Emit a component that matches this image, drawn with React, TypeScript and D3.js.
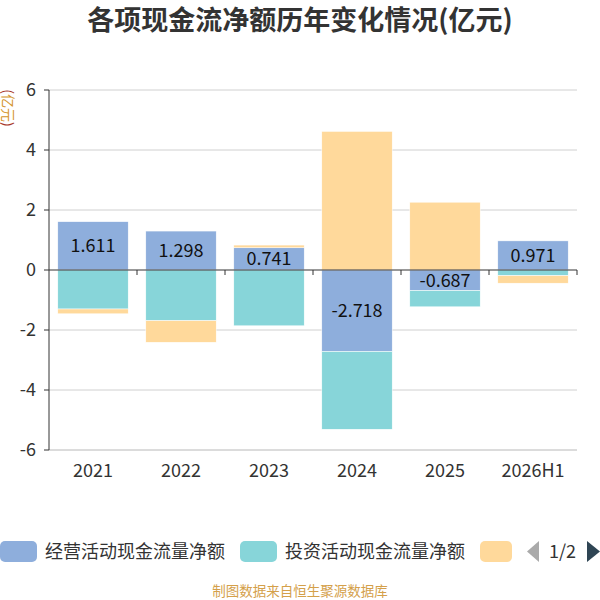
import React from "react";
import * as d3 from "d3";

const years = ["2021", "2022", "2023", "2024", "2025", "2026H1"];
const operating = [1.611, 1.298, 0.741, -2.718, -0.687, 0.971];
const investing = [-1.3, -1.69, -1.86, -2.59, -0.54, -0.19];
const financing = [-0.16, -0.72, 0.09, 4.62, 2.26, -0.25];
const seriesNames = ["经营活动现金流量净额", "投资活动现金流量净额", "筹资活动现金流量净额"];
const colors = ["#8eaedc", "#87d5d9", "#ffd99b"];
const yTicks = [-6, -4, -2, 0, 2, 4, 6];

const width = 600;
const height = 600;
const left = 49;
const right = 577;
const top = 90;
const bottom = 450;

const font = "'Noto Sans CJK SC', 'Noto Sans', sans-serif";

const x = d3.scaleBand<string>().domain(years).range([left, right]).paddingInner(0.2).paddingOuter(0.1);
const band = d3.scaleBand<string>().domain(years).range([left, right]);
const y = d3.scaleLinear().domain([-6, 6]).range([bottom, top]);

type Seg = { key: string; s: number; y0: number; y1: number; v: number };

// stack positives and negatives separately, like echarts does
const segments: Seg[] = [];
years.forEach((yr, i) => {
  let pos = 0;
  let neg = 0;
  [operating[i], investing[i], financing[i]].forEach((v, s) => {
    if (v >= 0) {
      segments.push({ key: yr, s, y0: pos, y1: pos + v, v });
      pos += v;
    } else {
      segments.push({ key: yr, s, y0: neg, y1: neg + v, v });
      neg += v;
    }
  });
});

const App = () => {
  return (
    <svg width={width} height={height} style={{ position: "absolute", left: 0, top: 0, fontFamily: font }}>
      <text x={300} y={30} textAnchor="middle" fontSize={27} fontWeight="bold" fill="#333">
        各项现金流净额历年变化情况(亿元)
      </text>
      <text transform={`translate(3, 108) rotate(90)`} textAnchor="middle" fontSize={14}>
        <tspan fill="#a8392b">(</tspan>
        <tspan fill="#d4952c">亿元</tspan>
        <tspan fill="#a8392b">)</tspan>
      </text>

      {yTicks.map((t) => (
        <g key={t}>
          {t !== 0 && <line x1={left} x2={right} y1={y(t)} y2={y(t)} stroke="#d0d0d0" />}
          <line x1={left - 5} x2={left} y1={y(t)} y2={y(t)} stroke="#333" />
          <text x={left - 13} y={y(t)} dy="0.35em" textAnchor="end" fontSize={18} fill="#333">
            {t}
          </text>
        </g>
      ))}
      <line x1={left} x2={right} y1={bottom} y2={bottom} stroke="#d0d0d0" />

      {segments.map((d, i) => (
        <rect
          key={i}
          x={x(d.key)}
          width={x.bandwidth()}
          y={y(Math.max(d.y0, d.y1))}
          height={Math.abs(y(d.y0) - y(d.y1))}
          fill={colors[d.s]}
          stroke="#fff"
          strokeWidth={0.5}
        />
      ))}

      {years.map((yr, i) => (
        <text
          key={yr}
          x={(x(yr) ?? 0) + x.bandwidth() / 2}
          y={y(operating[i] / 2)}
          dy="0.35em"
          textAnchor="middle"
          fontSize={18}
          fill="#111"
        >
          {operating[i]}
        </text>
      ))}

      <line x1={left} x2={left} y1={top} y2={bottom} stroke="#333" />
      <line x1={left} x2={right} y1={y(0)} y2={y(0)} stroke="#333" />
      {years.map((yr) => (
        <line
          key={yr}
          x1={(band(yr) ?? 0) + band.bandwidth()}
          x2={(band(yr) ?? 0) + band.bandwidth()}
          y1={y(0)}
          y2={y(0) + 5}
          stroke="#333"
        />
      ))}
      {years.map((yr) => (
        <text
          key={yr}
          x={(band(yr) ?? 0) + band.bandwidth() / 2}
          y={477}
          textAnchor="middle"
          fontSize={18}
          fill="#333"
        >
          {yr}
        </text>
      ))}

      {/* legend, first page */}
      {[0, 1, 2].map((s) => (
        <g key={s} transform={`translate(${s * 240}, 541)`}>
          <rect x={0} y={0} width={s === 2 ? 32 : 37} height={21} rx={5} fill={colors[s]} />
          {s < 2 && (
            <text x={45} y={10.5} dy="0.35em" fontSize={18} fill="#333">
              {seriesNames[s]}
            </text>
          )}
        </g>
      ))}
      <path d="M539,541 L527,551.5 L539,562 Z" fill="#aaa" />
      <text x={562.5} y={551.5} dy="0.35em" textAnchor="middle" fontSize={18} fill="#333">
        1/2
      </text>
      <path d="M587,541 L600,551.5 L587,562 Z" fill="#2f4554" />

      <text x={300} y={596} textAnchor="middle" fontSize={13.5} fill="#d4a04a">
        制图数据来自恒生聚源数据库
      </text>
    </svg>
  );
};

export default App;
